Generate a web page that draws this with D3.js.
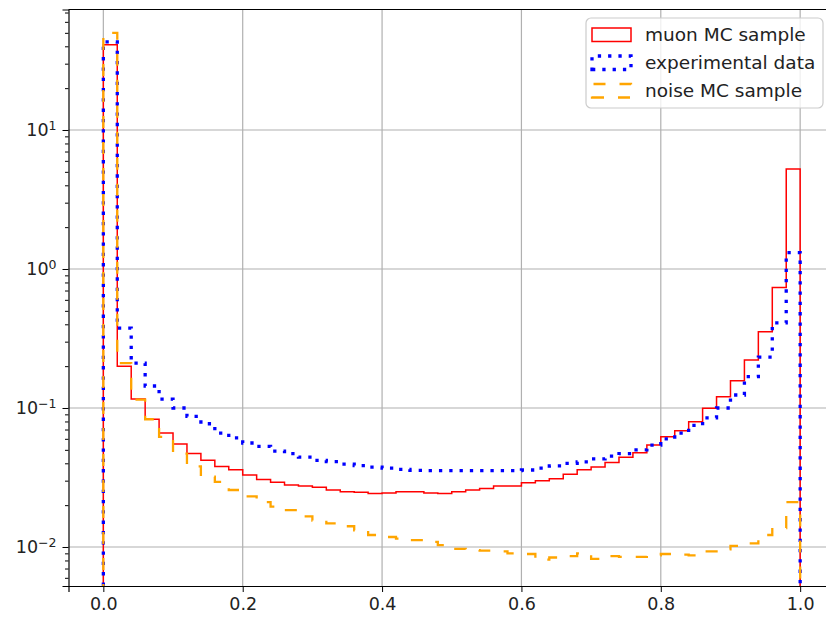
<!DOCTYPE html>
<html>
<head>
<meta charset="utf-8">
<script src="https://cdn.jsdelivr.net/npm/d3@7"></script>
<style>
  body { margin: 0; background: #fff; }
  text { font-family: "DejaVu Sans", sans-serif; }
</style>
</head>
<body>
<div id="chart"></div>
<script>
// bin contents, 50 bins of width 0.02 from 0 to 1
const muonMC = [41, 0.20, 0.116, 0.083, 0.066, 0.055, 0.047, 0.042, 0.038, 0.036,
  0.033, 0.0306, 0.0292, 0.0279, 0.0275, 0.0269, 0.0257, 0.025, 0.0248, 0.0243,
  0.0245, 0.025, 0.025, 0.0245, 0.0243, 0.025, 0.0257, 0.0264, 0.0275, 0.0275,
  0.029, 0.030, 0.031, 0.0333, 0.036, 0.0376, 0.0405, 0.0442, 0.0477, 0.0542,
  0.0621, 0.0686, 0.0797, 0.0996, 0.1206, 0.157, 0.221, 0.354, 0.735, 5.24];

const expData = [43, 0.375, 0.21, 0.144, 0.116, 0.10, 0.087, 0.077, 0.066, 0.061,
  0.056, 0.053, 0.049, 0.047, 0.0443, 0.042, 0.0411, 0.0394, 0.0385, 0.0375,
  0.0369, 0.0362, 0.0356, 0.0354, 0.0354, 0.0354, 0.0354, 0.0354, 0.0354, 0.0354,
  0.0358, 0.0369, 0.0383, 0.040, 0.041, 0.043, 0.045, 0.047, 0.05, 0.054,
  0.06, 0.066, 0.075, 0.085, 0.1, 0.124, 0.168, 0.232, 0.41, 1.31];

const noiseMC = [50, 0.21, 0.115, 0.083, 0.062, 0.047, 0.038, 0.032, 0.0294, 0.0257,
  0.0231, 0.021, 0.0195, 0.0184, 0.0166, 0.0155, 0.0148, 0.0141, 0.0132, 0.0122,
  0.0118, 0.0115, 0.0112, 0.0109, 0.0103, 0.0097, 0.0095, 0.0094, 0.0093, 0.009,
  0.0089, 0.0081, 0.0084, 0.0086, 0.009, 0.0082, 0.0086, 0.0085, 0.0085, 0.0087,
  0.0089, 0.0088, 0.0087, 0.0093, 0.0096, 0.0102, 0.0106, 0.0122, 0.0137, 0.021];

const xTicks = [0, 0.2, 0.4, 0.6, 0.8, 1.0];
const yTicks = [0.01, 0.1, 1, 10];
const legendLabels = ["muon MC sample", "experimental data", "noise MC sample"];

const width = 826, height = 617;
const margin = {top: 9.5, left: 68.5};
const plotRight = 835, plotBottom = 586;

const svg = d3.select("#chart").append("svg")
  .attr("width", width)
  .attr("height", height);

const x = d3.scaleLinear().domain([-0.05, 1.05]).range([margin.left, plotRight]);
const y = d3.scaleLog().domain([0.00524, 73.6]).range([plotBottom, margin.top]);

svg.append("clipPath").attr("id", "clip")
  .append("rect")
  .attr("x", margin.left).attr("y", margin.top)
  .attr("width", plotRight - margin.left).attr("height", plotBottom - margin.top);

// grid
const grid = svg.append("g");
xTicks.forEach(t => {
  grid.append("line")
    .attr("x1", x(t)).attr("x2", x(t))
    .attr("y1", margin.top).attr("y2", plotBottom)
    .attr("stroke", "#b0b0b0").attr("stroke-width", 1.2);
});
yTicks.forEach(t => {
  grid.append("line")
    .attr("x1", margin.left).attr("x2", plotRight)
    .attr("y1", y(t)).attr("y2", y(t))
    .attr("stroke", "#b0b0b0").attr("stroke-width", 1.2);
});

// histogram steps
function stepPoints(values) {
  const pts = [{e: 0, v: 1e-6}];
  values.forEach((v, i) => pts.push({e: i * 0.02, v: v}));
  pts.push({e: 1, v: values[values.length - 1]});
  pts.push({e: 1, v: 1e-6});
  return pts;
}

const stepLine = d3.line()
  .curve(d3.curveStepAfter)
  .x(d => x(d.e))
  .y(d => Math.min(y(d.v), plotBottom + 10));

const plot = svg.append("g").attr("clip-path", "url(#clip)");

const series = [
  {data: muonMC, color: "red", w: 1.5, dash: null},
  {data: expData, color: "blue", w: 3.3, dash: "3.3,7"},
  {data: noiseMC, color: "orange", w: 2.3, dash: "12,14"}
];

series.forEach(s => {
  plot.append("path")
    .datum(stepPoints(s.data))
    .attr("fill", "none")
    .attr("stroke", s.color)
    .attr("stroke-width", s.w)
    .attr("stroke-dasharray", s.dash)
    .attr("d", stepLine);
});

// axes
const xAxis = svg.append("g")
  .attr("transform", `translate(0,${plotBottom})`)
  .call(d3.axisBottom(x).tickValues(xTicks).tickSize(6).tickPadding(6)
    .tickFormat(d3.format(".1f")));
xAxis.select(".domain").attr("stroke-width", 1.2);
xAxis.selectAll("text").style("font-size", "17.5px").attr("fill", "#222");

const minorY = [];
[-3, -2, -1, 0, 1].forEach(k => {
  for (let m = 2; m <= 9; m++) {
    const v = m * Math.pow(10, k);
    if (v > y.domain()[0] && v < y.domain()[1]) minorY.push(v);
  }
});

const yAxis = svg.append("g")
  .attr("transform", `translate(${margin.left},0)`)
  .call(d3.axisLeft(y).tickValues(yTicks).tickSize(6).tickPadding(6)
    .tickFormat(() => ""));
yAxis.select(".domain").attr("stroke-width", 1.2);

yAxis.selectAll(".tick").each(function(d) {
  const t = d3.select(this).select("text")
    .style("font-size", "17.5px").attr("fill", "#222");
  t.append("tspan").text("10");
  t.append("tspan").attr("dy", "-0.45em").style("font-size", "12.5px")
    .text(Math.round(Math.log10(d)).toString().replace("-", "\u2212"));
});

svg.append("g")
  .attr("transform", `translate(${margin.left},0)`)
  .call(d3.axisLeft(y).tickValues(minorY).tickSize(3.5).tickFormat(() => ""))
  .select(".domain").remove();

// frame
svg.append("line")
  .attr("x1", margin.left).attr("x2", plotRight)
  .attr("y1", margin.top).attr("y2", margin.top)
  .attr("stroke", "#000").attr("stroke-width", 1.2);

// legend
const legend = svg.append("g");
legend.append("rect")
  .attr("x", 586).attr("y", 18)
  .attr("width", 237).attr("height", 90)
  .attr("rx", 5)
  .attr("fill", "white").attr("fill-opacity", 0.8)
  .attr("stroke", "#cccccc").attr("stroke-width", 1.2);

series.forEach((s, i) => {
  const y0 = 28 + i * 28, x0 = 592, hw = 39, hh = 13.5;
  legend.append("path")
    .attr("d", `M${x0},${y0 + hh}L${x0 + hw},${y0 + hh}L${x0 + hw},${y0}L${x0},${y0}Z`)
    .attr("fill", "none")
    .attr("stroke", s.color)
    .attr("stroke-width", s.w)
    .attr("stroke-dasharray", s.dash);
  legend.append("text")
    .attr("x", 645).attr("y", y0 + 13)
    .style("font-size", "18.5px").attr("fill", "#222")
    .text(legendLabels[i]);
});
</script>
</body>
</html>
